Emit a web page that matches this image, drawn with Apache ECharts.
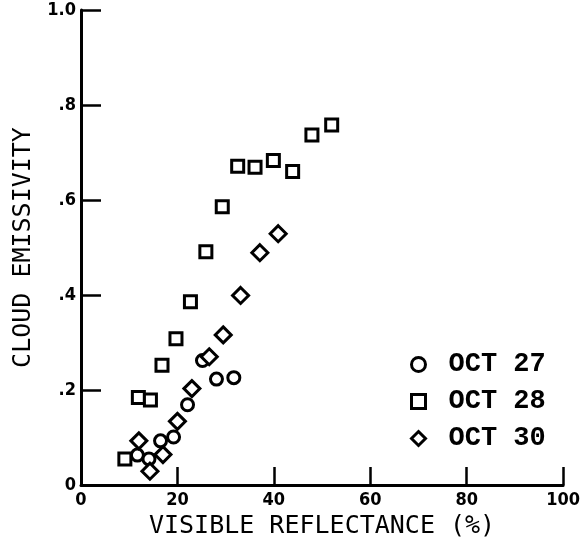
<!DOCTYPE html>
<html>
<head>
<meta charset="utf-8">
<script src="https://cdn.jsdelivr.net/npm/echarts@6/dist/echarts.min.js"></script>
<style>
html,body{margin:0;padding:0;background:#fff;}
#chart{width:583px;height:544px;}
</style>
</head>
<body>
<div id="chart"></div>
<script>
// Data
var seriesNames = ['OCT 27', 'OCT 28', 'OCT 30'];
var oct27 = [[11.7,0.063],[14.1,0.055],[16.5,0.093],[19.2,0.101],[22.1,0.169],[25.2,0.262],[28.1,0.223],[31.7,0.226]];
var oct28 = [[9.1,0.055],[11.9,0.184],[14.4,0.179],[16.8,0.252],[19.7,0.308],[22.7,0.386],[25.9,0.491],[29.3,0.586],[32.5,0.671],[36.1,0.669],[39.9,0.683],[43.9,0.660],[47.9,0.737],[52.0,0.758]];
var oct30 = [[12.0,0.093],[14.3,0.029],[17.0,0.064],[20.0,0.134],[23.0,0.203],[26.6,0.270],[29.5,0.316],[33.1,0.399],[37.1,0.489],[40.9,0.529]];
var xTickLabels = ['0','20','40','60','80','100'];
var yTickLabels = ['0','.2','.4','.6','.8','1.0'];
var xName = 'VISIBLE REFLECTANCE (%)';
var yName = 'CLOUD EMISSIVITY';

var chart = echarts.init(document.getElementById('chart'), null, {renderer:'canvas'});
var mk = {color:'#fff', borderColor:'#000', borderWidth:3, opacity:1};
var tickFont = {fontFamily:'DejaVu Sans Condensed, DejaVu Sans', fontWeight:'bold', fontSize:18, color:'#000'};
var nameFont = {fontFamily:'DejaVu Sans Mono', fontSize:25, color:'#000'};
chart.setOption({
  animation:false,
  backgroundColor:'#fff',
  grid:{left:81, right:17, top:10, bottom:58},
  legend:{
    orient:'vertical', left:405, top:346,
    itemWidth:14, itemHeight:14, itemGap:10,
    data:seriesNames,
    itemStyle:{color:'#fff', borderColor:'#000', borderWidth:3, opacity:1},
    textStyle:{fontFamily:'Liberation Mono', fontWeight:'bold', fontSize:27, color:'#000', padding:[0,0,0,18]}
  },
  xAxis:{
    type:'value', min:0, max:100, interval:20,
    name:xName, nameLocation:'middle', nameGap:29, nameTextStyle:nameFont,
    axisLine:{show:true, lineStyle:{color:'#000', width:3}},
    axisTick:{show:true, inside:true, length:18, lineStyle:{color:'#000', width:2.5}},
    axisLabel:Object.assign({margin:6, formatter:function(v){return xTickLabels[Math.round(v/20)];}}, tickFont),
    splitLine:{show:false}
  },
  yAxis:{
    type:'value', min:0, max:1, interval:0.2,
    name:yName, nameLocation:'middle', nameGap:45, nameTextStyle:nameFont,
    axisLine:{show:true, lineStyle:{color:'#000', width:3}},
    axisTick:{show:true, inside:true, length:20, lineStyle:{color:'#000', width:2.5}},
    axisLabel:Object.assign({margin:5, formatter:function(v){return yTickLabels[Math.round(v*5)];}}, tickFont),
    splitLine:{show:false}
  },
  series:[
    {name:seriesNames[0], type:'scatter', symbol:'circle', symbolSize:12, itemStyle:mk, data:oct27},
    {name:seriesNames[1], type:'scatter', symbol:'rect', symbolSize:12, itemStyle:mk, data:oct28},
    {name:seriesNames[2], type:'scatter', symbol:'diamond', symbolSize:16, itemStyle:mk, data:oct30}
  ]
});
</script>
</body>
</html>
